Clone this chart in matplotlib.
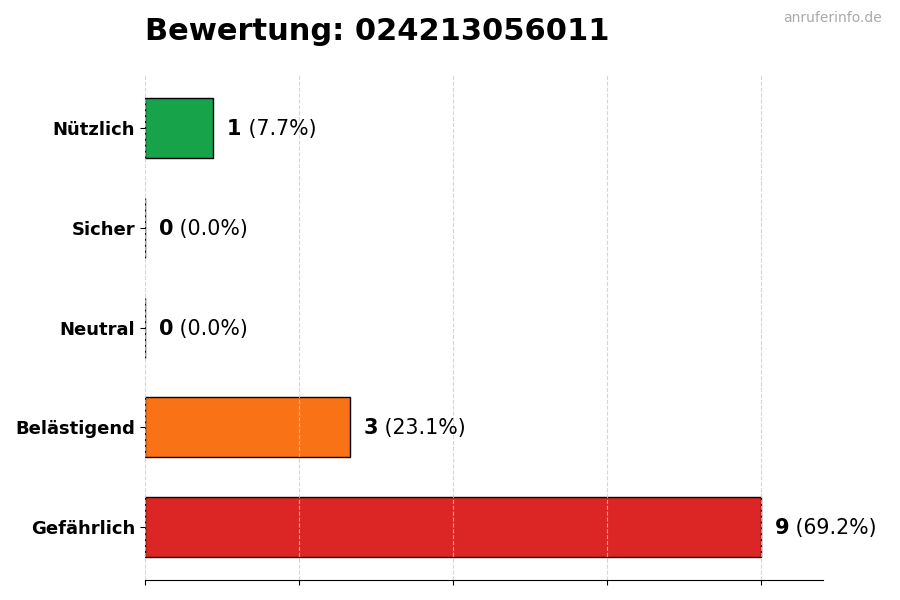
import matplotlib.pyplot as plt

categories = ['Nützlich', 'Sicher', 'Neutral', 'Belästigend', 'Gefährlich']
counts = [1, 0, 0, 3, 9]
colors = ['#16a34a', '#3b82f6', '#9ca3af', '#f97316', '#dc2626']
title = 'Bewertung: 024213056011'

total = sum(counts)
ypos = list(range(len(categories)))[::-1]

fig = plt.figure(figsize=(9, 6), dpi=100)
ax = fig.add_axes([0.161, 0.033, 0.753, 0.842])

ax.barh(ypos, counts, height=0.6, color=colors, edgecolor='black', linewidth=1, zorder=2)
ax.set_xlim(0, max(counts) * 1.1)
ax.set_xticks([max(counts) * i / 4 for i in range(5)])
ax.set_xticklabels([])
ax.set_yticks(ypos)
ax.set_yticklabels(categories, fontsize=13, fontweight='bold')
ax.grid(axis='x', linestyle='--', color='#cccccc', alpha=0.8, zorder=3)
ax.set_axisbelow(False)
for side in ['top', 'right', 'left']:
    ax.spines[side].set_visible(False)

for y, c in zip(ypos, counts):
    t = ax.text(c + 0.2, y - 0.01, str(c), fontsize=15, fontweight='bold', va='center', ha='left')
    ax.annotate(f' ({c / total * 100:.1f}%)', xy=(1, 0), xycoords=t,
                fontsize=14.8, va='bottom', ha='left')

ax.set_title(title, loc='left', fontsize=22, fontweight='bold', pad=25)
fig.text(0.98, 0.97, 'anruferinfo.de', ha='right', va='center', fontsize=10, color='#aaaaaa')

plt.savefig('out.png', dpi=100)
